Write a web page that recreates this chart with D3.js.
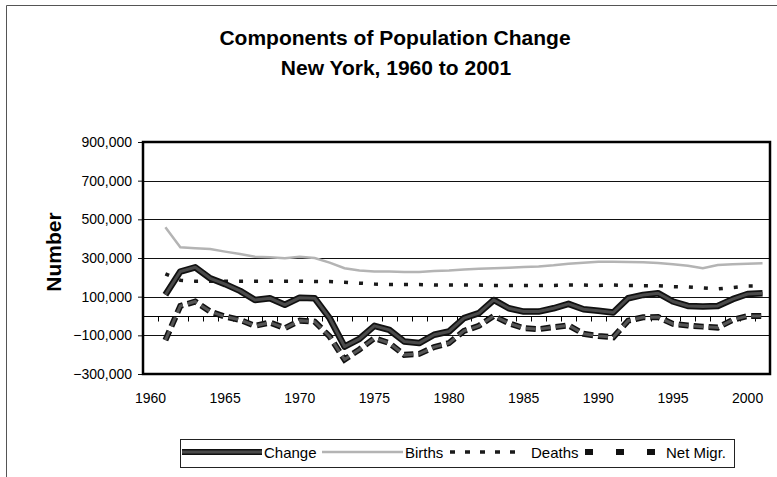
<!DOCTYPE html>
<html>
<head>
<meta charset="utf-8">
<script src="https://cdn.jsdelivr.net/npm/d3@7"></script>
<style>
  body { margin: 0; background: #fff; }
  svg { display: block; font-family: "Liberation Sans", Arial, sans-serif; }
</style>
</head>
<body>
<svg id="chart"></svg>
<script>
// categories on the x axis (1960 has no data)
var categories = d3.range(1960, 2002);
var labelYears = [1960, 1965, 1970, 1975, 1980, 1985, 1990, 1995, 2000];
var dataYears = d3.range(1961, 2002);

// series values, thousands of people, 1961 to 2001
var change = [110, 230, 252, 195, 165, 130, 83, 92, 58, 95, 92, -11, -158, -118, -51, -72, -132, -140, -97, -80,
              -11, 15, 83, 40, 23, 23, 40, 63, 35, 27, 18, 92, 109, 118, 75, 52, 49, 52, 87, 114, 118];
var births = [459, 356, 351, 346, 333, 321, 307, 304, 299, 307, 300, 276, 247, 235, 230, 230, 228, 228, 233, 235,
              240, 245, 247, 250, 253, 256, 262, 270, 276, 280, 281, 279, 278, 274, 268, 260, 247, 264, 268, 270, 273];
var deaths = [218, 185, 180, 180, 180, 180, 180, 180, 180, 180, 178, 178, 175, 170, 165, 163, 163, 163, 160, 160,
              160, 160, 158, 158, 158, 158, 158, 160, 160, 158, 160, 158, 157, 157, 152, 150, 145, 140, 147, 155, 155];
var netMigr = [-125, 52, 75, 23, -3, -20, -51, -34, -63, -24, -29, -106, -225, -173, -115, -140, -201, -196, -161, -140,
               -77, -51, 0, -37, -63, -68, -58, -48, -92, -103, -110, -24, -7, -5, -41, -49, -55, -60, -20, 0, 0];

// y tick labels
var yTicks = [-300000, -100000, 100000, 300000, 500000, 700000, 900000];

var width = 777, height = 477;
var plot = {left: 143, right: 770, top: 142, bottom: 374};

var svg = d3.select("#chart")
    .attr("width", width)
    .attr("height", height);

// outer frame of the chart area
svg.append("path")
    .attr("d", "M6.5," + height + "V5.5H" + width)
    .attr("fill", "none")
    .attr("stroke", "#555")
    .attr("stroke-width", 1);

// set the ranges
var x = d3.scaleBand().domain(categories).range([plot.left, plot.right]);
var y = d3.scaleLinear().domain([-300000, 900000]).range([plot.bottom, plot.top]);
var bw = x.bandwidth();

// title
svg.append("text")
    .attr("x", 395).attr("y", 45)
    .attr("text-anchor", "middle")
    .attr("font-size", 21).attr("font-weight", "bold")
    .text("Components of Population Change");
svg.append("text")
    .attr("x", 396).attr("y", 75)
    .attr("text-anchor", "middle")
    .attr("font-size", 21).attr("font-weight", "bold")
    .text("New York, 1960 to 2001");

// y axis title
svg.append("text")
    .attr("transform", "translate(61,252) rotate(-90)")
    .attr("text-anchor", "middle")
    .attr("font-size", 21).attr("font-weight", "bold")
    .text("Number");

// gridlines
svg.append("g")
    .selectAll("line")
    .data(yTicks)
    .join("line")
    .attr("x1", plot.left).attr("x2", plot.right)
    .attr("y1", function(d) { return Math.round(y(d)) + 0.5; })
    .attr("y2", function(d) { return Math.round(y(d)) + 0.5; })
    .attr("stroke", "#111")
    .attr("stroke-width", 1);

// add the Y Axis
var yAxis = svg.append("g")
    .attr("transform", "translate(" + plot.left + ",0)")
    .call(d3.axisLeft(y)
        .tickValues(yTicks)
        .tickFormat(d3.format(","))
        .tickSizeInner(5).tickSizeOuter(0).tickPadding(6));
yAxis.select(".domain").remove();
yAxis.selectAll("text").attr("font-size", 14).attr("fill", "#000").attr("font-family", null);
yAxis.selectAll("line").attr("stroke", "#111");

// add the X Axis labels
var xAxis = svg.append("g")
    .attr("transform", "translate(0," + plot.bottom + ")")
    .call(d3.axisBottom(x)
        .tickValues(labelYears)
        .tickSize(0).tickPadding(19));
xAxis.select(".domain").remove();
xAxis.selectAll("text").attr("font-size", 14).attr("fill", "#000").attr("font-family", null);

// zero line with tick marks between categories
var y0 = Math.round(y(0)) + 0.5;
svg.append("line")
    .attr("x1", plot.left).attr("x2", plot.right)
    .attr("y1", y0).attr("y2", y0)
    .attr("stroke", "#000");
svg.append("g")
    .selectAll("line")
    .data(categories.slice(1))
    .join("line")
    .attr("x1", function(d) { return Math.round(x(d)) + 0.5; })
    .attr("x2", function(d) { return Math.round(x(d)) + 0.5; })
    .attr("y1", y0).attr("y2", y0 + 5)
    .attr("stroke", "#000");

// define the line
function seriesLine(values) {
  return d3.line()
    .x(function(d, i) { return x(dataYears[i]) + bw / 2; })
    .y(function(d) { return y(d * 1000); })(values);
}

// births
svg.append("path")
    .attr("d", seriesLine(births))
    .attr("fill", "none")
    .attr("stroke", "#b4b4b4")
    .attr("stroke-width", 2.5);

// deaths
svg.append("path")
    .attr("d", seriesLine(deaths))
    .attr("fill", "none")
    .attr("stroke", "#1a1a1a")
    .attr("stroke-width", 3.5)
    .attr("stroke-dasharray", "4,11");

// net migration
svg.append("path")
    .attr("d", seriesLine(netMigr))
    .attr("fill", "none")
    .attr("stroke", "#111")
    .attr("stroke-width", 6)
    .attr("stroke-dasharray", "10,5");
svg.append("path")
    .attr("d", seriesLine(netMigr))
    .attr("fill", "none")
    .attr("stroke", "#555")
    .attr("stroke-width", 3)
    .attr("stroke-dasharray", "10,5");

// change
svg.append("path")
    .attr("d", seriesLine(change))
    .attr("fill", "none")
    .attr("stroke", "#111")
    .attr("stroke-width", 6.5)
    .attr("stroke-linejoin", "round");
svg.append("path")
    .attr("d", seriesLine(change))
    .attr("fill", "none")
    .attr("stroke", "#4a4a4a")
    .attr("stroke-width", 3)
    .attr("stroke-linejoin", "round");

// plot border
svg.append("rect")
    .attr("x", plot.left).attr("y", plot.top)
    .attr("width", plot.right - plot.left)
    .attr("height", plot.bottom - plot.top)
    .attr("fill", "none")
    .attr("stroke", "#000")
    .attr("stroke-width", 2.5);

// legend
var legendItems = [
  {name: "Change", x1: 182, x2: 262, tx: 264},
  {name: "Births", x1: 322, x2: 403, tx: 405},
  {name: "Deaths", x1: 450, x2: 518, tx: 531},
  {name: "Net Migr.", x1: 585, x2: 655, tx: 666}
];
var legend = svg.append("g");
legend.append("rect")
    .attr("x", 180.5).attr("y", 439.5)
    .attr("width", 554).attr("height", 28)
    .attr("fill", "#fff")
    .attr("stroke", "#222");
var ly = 452;
var item = legend.selectAll("g.item")
    .data(legendItems)
    .join("g").attr("class", "item");
item.each(function(d) {
  var g = d3.select(this);
  if (d.name === "Change") {
    g.append("line").attr("stroke", "#111").attr("stroke-width", 6);
    g.append("line").attr("stroke", "#4a4a4a").attr("stroke-width", 3);
  } else if (d.name === "Births") {
    g.append("line").attr("stroke", "#b4b4b4").attr("stroke-width", 2.5);
  } else if (d.name === "Deaths") {
    g.append("line").attr("stroke", "#1a1a1a").attr("stroke-width", 3.5).attr("stroke-dasharray", "5,10");
  } else {
    g.append("line").attr("stroke", "#111").attr("stroke-width", 6).attr("stroke-dasharray", "8,23");
  }
  g.selectAll("line")
    .attr("x1", d.x1).attr("x2", d.x2)
    .attr("y1", ly).attr("y2", ly);
  g.append("text")
    .attr("x", d.tx).attr("y", ly + 6)
    .attr("font-size", 15)
    .text(d.name);
});
</script>
</body>
</html>
